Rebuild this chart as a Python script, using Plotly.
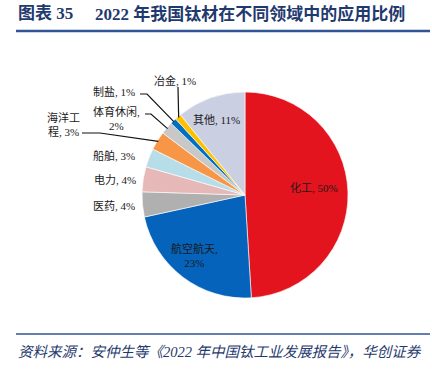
import math
import plotly.graph_objects as go

# ---- data ----
categories = ["化工", "航空航天", "医药", "电力", "船舶", "海洋工程", "体育休闲", "制盐", "冶金", "其他"]
values = [50, 23, 4, 4, 3, 3, 2, 1, 1, 11]
label_texts = ["化工, 50%", "航空航天,<br>23%", "医药, 4%", "电力, 4%", "船舶, 3%",
               "海洋工<br>程, 3%", "体育休闲,<br>2%", "制盐, 1%", "冶金, 1%", "其他, 11%"]
colors = ["#E3141E", "#0563BB", "#B0B0B0", "#E6B8B7", "#B7DEE8",
          "#F79646", "#C8C8C8", "#0070C0", "#FFC000", "#CACFE2"]

W, H = 432, 371
CX, CY, R = 245, 195, 103  # pie centre/radius in pixels

# label positions (pixels, centre of text) and anchors
label_pos = {
    "化工": (314, 188, "center"),
    "航空航天": (194, 255, "center"),
    "医药": (137, 206, "right"),
    "电力": (138, 180, "right"),
    "船舶": (137, 155, "right"),
    "海洋工程": (63, 124, "center"),
    "体育休闲": (117, 119, "center"),
    "制盐": (137, 92, "right"),
    "冶金": (175, 80, "center"),
    "其他": (217, 120, "center"),
}
# leader line starts (pixels)
leader_start = {
    "冶金": [(178, 87)],
    "制盐": [(140, 94), (147, 94)],
    "体育休闲": [(145, 114), (151, 114)],
    "海洋工程": [(82, 133), (100, 133)],
}

def px(x):
    return x / W

def py(y):
    return 1 - y / H

fig = go.Figure()
fig.add_trace(go.Pie(
    labels=categories, values=values, sort=False, direction="clockwise", rotation=0,
    marker=dict(colors=colors, line=dict(color="white", width=0.6)),
    textinfo="none", hoverinfo="label+percent", showlegend=False,
    domain=dict(x=[px(CX - R), px(CX + R)], y=[py(CY + R), py(CY - R)]),
))

font_txt = "Liberation Serif, Noto Sans CJK SC, serif"
annotations = []
for cat, txt in zip(categories, label_texts):
    x, y, anc = label_pos[cat]
    annotations.append(dict(
        x=px(x), y=py(y), xref="paper", yref="paper", text=txt, showarrow=False,
        xanchor=anc, yanchor="middle", align="center",
        font=dict(family=font_txt, size=11, color="#1a1a1a"),
    ))

# leader lines computed from data angles
total = sum(values)
cum = 0
shapes = []
for cat, v in zip(categories, values):
    mid = (cum + v / 2) / total * 2 * math.pi
    cum += v
    if cat in leader_start:
        ex = CX + R * 0.99 * math.sin(mid)
        ey = CY - R * 0.99 * math.cos(mid)
        pts = leader_start[cat] + [(ex, ey)]
        path = "M " + " L ".join(f"{px(a):.4f},{py(b):.4f}" for a, b in pts)
        shapes.append(dict(type="path", path=path, xref="paper", yref="paper",
                           line=dict(color="#111111", width=1.2)))

# title and rules
navy = "#1F3A6E"
title_font = dict(family="Liberation Serif, Noto Sans CJK SC, serif", size=17, color=navy)
annotations.append(dict(x=px(16), y=py(14), xref="paper", yref="paper",
                        text="<b>图表 35</b>", showarrow=False, xanchor="left",
                        yanchor="middle", font=title_font))
annotations.append(dict(x=px(93), y=py(14), xref="paper", yref="paper",
                        text="<b>2022 年我国钛材在不同领域中的应用比例</b>", showarrow=False,
                        xanchor="left", yanchor="middle", font=title_font))
annotations.append(dict(x=px(16), y=py(352), xref="paper", yref="paper",
                        text="<i>资料来源：安仲生等《2022 年中国钛工业发展报告》，华创证券</i>",
                        showarrow=False, xanchor="left", yanchor="middle",
                        font=dict(family="Liberation Serif, Noto Sans CJK SC, serif",
                                  size=14.5, color=navy)))
shapes.append(dict(type="line", xref="paper", yref="paper", x0=px(16), x1=px(430),
                   y0=py(31), y1=py(31), line=dict(color="#2F5597", width=2.5)))
shapes.append(dict(type="line", xref="paper", yref="paper", x0=px(16), x1=px(430),
                   y0=py(334), y1=py(334), line=dict(color="#2F5597", width=1.5)))

fig.update_layout(
    width=W, height=H, margin=dict(l=0, r=0, t=0, b=0),
    paper_bgcolor="white", plot_bgcolor="white",
    annotations=annotations, shapes=shapes,
)
fig.write_html("out.html", config={"displayModeBar": False},
               post_script="document.body.style.margin='0px';")
